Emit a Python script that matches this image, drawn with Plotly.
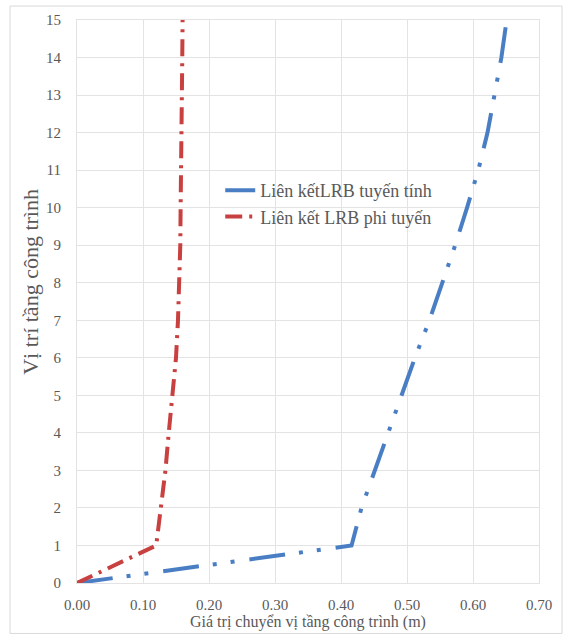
import plotly.graph_objects as go

# Floor index (storey position) of the building
floors = list(range(16))

# Storey displacement (m) for each floor
disp_linear = [0.000, 0.416, 0.431, 0.451, 0.471, 0.492, 0.512, 0.534,
               0.554, 0.573, 0.591, 0.608, 0.622, 0.633, 0.643, 0.651]
disp_nonlinear = [0.000, 0.120, 0.127, 0.134, 0.139, 0.144, 0.150, 0.153,
                  0.1555, 0.1565, 0.157, 0.158, 0.1587, 0.159, 0.1595, 0.160]

name_linear = "Liên kếtLRB tuyến tính"
name_nonlinear = "Liên kết LRB phi tuyến"

x_ticks = [0.0, 0.1, 0.2, 0.3, 0.4, 0.5, 0.6, 0.7]
y_ticks = list(range(16))

x_title = "Giá trị chuyển vị tầng công trình (m)"
y_title = "Vị trí tầng công trình"

FONT = "Liberation Serif"
GRAY = "#595959"
GRID = "#e3e3e3"

fig = go.Figure()
fig.add_trace(go.Scatter(
    x=disp_linear, y=floors, mode="lines", name=name_linear,
    line=dict(color="#4a7ec4", width=4, dash="36px,14px,4px,14px,4px,15px"),
))
fig.add_trace(go.Scatter(
    x=disp_nonlinear, y=floors, mode="lines", name=name_nonlinear,
    line=dict(color="#c8403f", width=4, dash="17px,7px,3px,7px"),
))

fig.update_layout(
    width=568, height=639,
    margin=dict(l=77, r=29, t=20, b=56),
    paper_bgcolor="white", plot_bgcolor="white",
    font=dict(family=FONT, size=15, color=GRAY),
    showlegend=True,
    legend=dict(x=0.31, y=0.73, xanchor="left", yanchor="top",
                bgcolor="rgba(0,0,0,0)", font=dict(family=FONT, size=18, color=GRAY),
                itemwidth=30),
    xaxis=dict(range=[0, 0.7], tickvals=x_ticks, tickformat=".2f",
               showgrid=True, gridcolor=GRID, gridwidth=1, zeroline=False,
               showline=True, linecolor=GRID, linewidth=1, mirror=True,
               ticks="", ticklabelstandoff=8,
               tickfont=dict(family=FONT, size=15, color=GRAY)),
    yaxis=dict(range=[0, 15], tickvals=y_ticks,
               showgrid=True, gridcolor=GRID, gridwidth=1, zeroline=False,
               showline=True, linecolor=GRID, linewidth=1, mirror=True,
               ticks="", ticklabelstandoff=12,
               tickfont=dict(family=FONT, size=15, color=GRAY)),
    annotations=[
        dict(text=x_title, xref="paper", yref="paper", x=0.5, y=0,
             xanchor="center", yanchor="middle", yshift=-39, showarrow=False,
             font=dict(family=FONT, size=16, color=GRAY)),
        dict(text=y_title, xref="paper", yref="paper", x=0, y=0.535,
             xanchor="center", yanchor="middle", xshift=-46, textangle=-90,
             showarrow=False, font=dict(family=FONT, size=22, color=GRAY)),
    ],
    shapes=[
        dict(type="rect", xref="paper", yref="paper",
             x0=-0.145, x1=1.0498, y0=-0.0896, y1=1.0248,
             line=dict(color="#d9d9d9", width=1), fillcolor="rgba(0,0,0,0)",
             layer="below"),
    ],
)

fig.write_html("out.html")
